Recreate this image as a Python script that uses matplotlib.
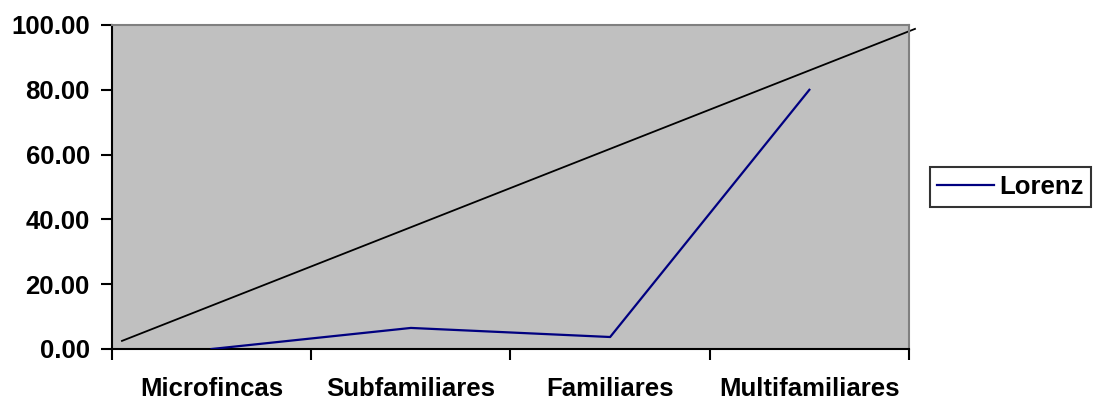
import matplotlib.pyplot as plt
from matplotlib.ticker import FormatStrFormatter

plt.rcParams['font.family'] = ['Liberation Sans', 'DejaVu Sans']
plt.rcParams['font.weight'] = 'bold'

categorias = ['Microfincas', 'Subfamiliares', 'Familiares', 'Multifamiliares']
lorenz = [0.0, 6.5, 3.7, 80.0]
# linea de igualdad (dibujada a mano en el original)
igualdad_x = [-0.45, 3.53]
igualdad_y = [2.5, 98.8]

fig = plt.figure(figsize=(11, 4.04), dpi=100)
ax = fig.add_axes([112 / 1100, 1 - 349 / 404, (909 - 112) / 1100, (349 - 25) / 404])
ax.set_facecolor('#c0c0c0')

x = list(range(len(categorias)))
ax.plot(x, lorenz, color='#000080', lw=1.6, label='Lorenz', zorder=3)
ax.plot(igualdad_x, igualdad_y, color='black', lw=1.3, clip_on=False, zorder=2)

ax.set_xlim(-0.5, 3.5)
ax.set_ylim(0, 100)
ax.set_yticks([0, 20, 40, 60, 80, 100])
ax.yaxis.set_major_formatter(FormatStrFormatter('%.2f'))
ax.set_xticks(x)
ax.set_xticklabels(categorias)
ax.set_xticks([-0.5, 0.5, 1.5, 2.5, 3.5], minor=True)
ax.tick_params(axis='x', which='major', length=0, pad=20, labelsize=18.5)
ax.tick_params(axis='x', which='minor', length=8, width=1.5, direction='out')
ax.tick_params(axis='y', length=8, width=1.5, direction='out', labelsize=18.5, pad=8)

for s in ['left', 'bottom']:
    ax.spines[s].set_color('black')
    ax.spines[s].set_linewidth(1.5)
for s in ['top', 'right']:
    ax.spines[s].set_color('#808080')
    ax.spines[s].set_linewidth(1.5)

leg = ax.legend(loc='center left', bbox_to_anchor=(1.026, 0.5), frameon=True,
                fancybox=False, edgecolor='black', fontsize=18.5,
                handlelength=2.2, handletextpad=0.2, borderpad=0.3,
                borderaxespad=0)
leg.get_frame().set_linewidth(1.5)

fig.savefig('out.png', dpi=100)
